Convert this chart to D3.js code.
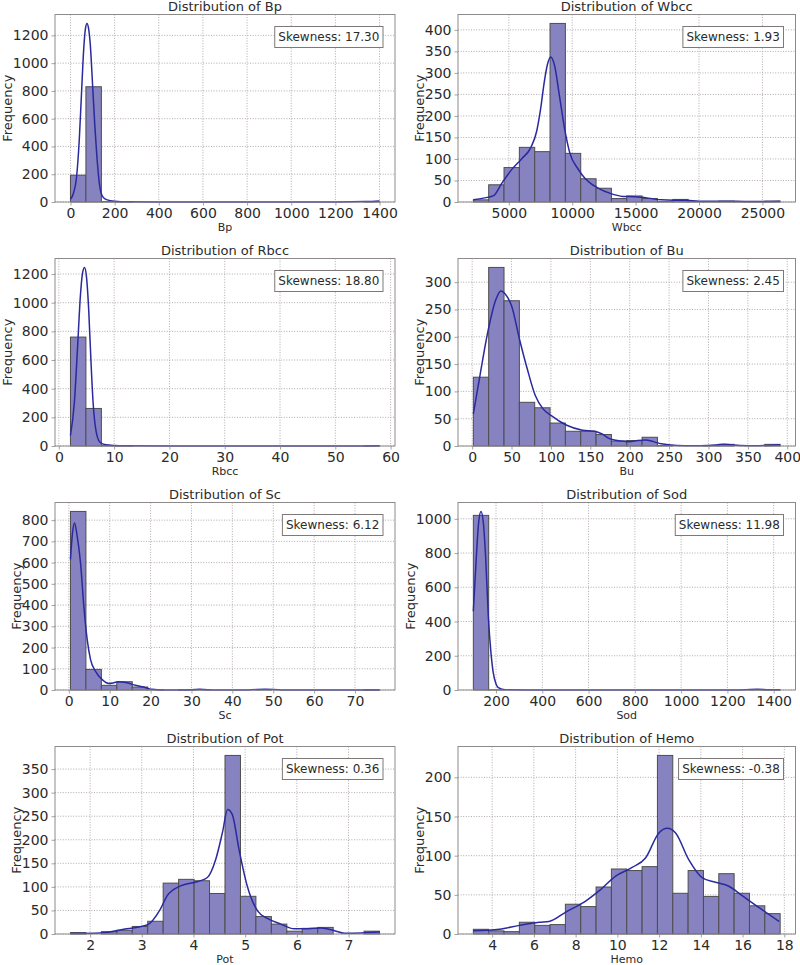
<!DOCTYPE html>
<html><head><meta charset="utf-8">
<script src="https://cdn.jsdelivr.net/npm/d3@7/dist/d3.min.js"></script>
<style>body{margin:0;background:#fff}text{font-family:"DejaVu Sans",sans-serif}</style>
</head><body>
<svg id="chart" width="800" height="965"></svg>
<script>
// ---------- data ----------
const panelNames = ["Bp","Wbcc","Rbcc","Bu","Sc","Sod","Pot","Hemo"];
const skewness  = ["17.30","1.93","18.80","2.45","6.12","11.98","0.36","-0.38"];
const dataRanges = [[0,1400],[2200,26400],[2.1,58],[1.5,391],[0.4,76],[102,1428],[1.62,7.6],[3.1,17.8]];

const bpCounts   = [193,830,3,1,0,0,0,0,0,0,0,0,0,0,0,0,0,0,0,1];
const wbccCounts = [5,40,80,127,117,415,113,54,32,8,14,8,1,6,1,1,2,1,1,2];
const rbccCounts = [760,262,3,1,0,0,0,0,0,0,0,0,0,0,0,0,0,0,0,1];
const buCounts   = [126,327,266,80,70,42,27,27,21,9,10,16,1,0,0,1,3,0,0,3];
const scCounts   = [841,97,22,39,14,1,0,1,2,0,0,0,2,0,0,0,0,0,0,1];
const sodCounts  = [1020,1,0,0,0,0,0,0,0,0,0,0,0,0,0,0,0,0,2,1];
const potCounts  = [3,0,5,8,16,27,108,116,113,86,379,80,37,21,6,12,14,0,0,6];
const hemoCounts = [6,4,3,15,11,12,38,35,60,83,81,86,228,52,81,48,77,52,36,26];

const bpKde = [[0,20],[15,70],[27,171],[40,450],[50,780],[60,1100],[68,1250],[75,1286],[82,1250],[90,1130],[100,850],[110,560],[120,320],[133,110],[145,40],[163,17],[200,5],[260,1],[400,0.5],[800,0.3],[1200,0.5],[1340,3],[1400,8]];
const wbccKde = [[2200,5],[3000,9],[3800,15],[4433,43],[5266,77],[6000,100],[6741,127],[7200,165],[7500,215],[7800,280],[8050,320],[8300,337],[8600,318],[9000,245],[9400,170],[9800,115],[10500,75],[11000,55],[11500,42],[12000,33],[13000,20],[14000,13],[15000,12],[16000,9],[17000,5],[18000,4],[19000,4],[20000,2],[22000,2],[24000,1],[26400,2]];
const rbccKde = [[2.1,74],[2.8,300],[3.4,700],[3.9,1050],[4.3,1210],[4.66,1246],[5.0,1180],[5.4,950],[5.8,600],[6.2,300],[6.7,110],[7.4,28],[8.5,8],[10,3],[12,1],[20,0.3],[40,0.2],[55,0.5],[58,2]];
const buKde = [[1.5,59],[10,130],[20,210],[30,268],[36.6,284],[45,272],[50,257],[60,196],[70,141],[80,93],[90,68],[100,56],[120,38],[140,29],[155,27],[165,22],[175,13],[190,9],[200,8],[210,10],[220,11],[230,8],[240,4],[260,1],[280,0.5],[300,1],[320,3],[340,1],[360,0.5],[380,1.5],[391,2.5]];
const scKde = [[0.4,615],[0.9,740],[1.39,787],[2.0,730],[2.86,600],[3.67,395],[4.49,238],[5.3,144],[6.5,89],[8.1,50],[9.8,31],[11,34],[12.2,39],[13.9,35],[16.3,22],[18.8,11],[20.4,3],[23,0.5],[28,0.5],[32,3],[36,0.5],[44,0.5],[48,4],[52,0.5],[60,0.2],[76,0.3]];
const sodKde = [[102,460],[115,780],[125,980],[135,1043],[145,980],[155,780],[166.7,431],[178,220],[188,101],[200,35],[210,14],[240,1],[400,0.2],[800,0.2],[1200,0.3],[1280,2],[1330,4],[1380,2],[1428,2]];
const potKde = [[1.62,1],[2.2,2],[2.71,11],[3.1,19],[3.36,53],[3.49,81],[3.75,102],[4.07,111],[4.27,120],[4.43,158],[4.56,215],[4.66,264],[4.75,254],[4.88,180],[5.04,102],[5.24,49],[5.43,33],[5.69,21],[5.95,11],[6.21,11],[6.47,13],[6.73,7],[6.92,1.5],[7.25,2],[7.6,4]];
const hemoKde = [[3.1,4],[4.35,6],[5.3,11],[6.26,15],[6.73,16],[7.53,28],[8.48,42],[9.12,55],[9.92,74],[10.71,85],[11.35,97],[11.99,129],[12.39,135],[12.79,129],[13.42,95],[14.06,72],[14.7,66],[15.34,61],[15.98,49],[16.77,34],[17.75,16]];

const xTicks = [
  [0,200,400,600,800,1000,1200,1400],
  [5000,10000,15000,20000,25000],
  [0,10,20,30,40,50,60],
  [0,50,100,150,200,250,300,350,400],
  [0,10,20,30,40,50,60,70],
  [200,400,600,800,1000,1200,1400],
  [2,3,4,5,6,7],
  [4,6,8,10,12,14,16,18]
];
const yTicks = [
  [0,200,400,600,800,1000,1200],
  [0,50,100,150,200,250,300,350,400],
  [0,200,400,600,800,1000,1200],
  [0,50,100,150,200,250,300],
  [0,100,200,300,400,500,600,700,800],
  [0,200,400,600,800,1000],
  [0,50,100,150,200,250,300,350],
  [0,50,100,150,200]
];
const allCounts = [bpCounts,wbccCounts,rbccCounts,buCounts,scCounts,sodCounts,potCounts,hemoCounts];
const allKde = [bpKde,wbccKde,rbccKde,buKde,scKde,sodKde,potKde,hemoKde];

// ---------- layout ----------
const colLeft = [55, 458], colRight = [395, 795.5];
const rowTop = [14.5, 258.5, 502.5, 746.5], axH = 187.5;
const barFill = "#8783c1", barEdge = "#4d4d4d", kdeColor = "#2a2a9e";
const gridColor = "#b3a9a9", spineColor = "#8f8a8a", textColor = "#2b2b2b";

const svg = d3.select("#chart");

panelNames.forEach((name, i) => {
  const r = Math.floor(i / 2), c = i % 2;
  const L = colLeft[c], R = colRight[c], T = rowTop[r], B = T + axH;
  const [mn, mx] = dataRanges[i];
  const span = mx - mn;
  const counts = allCounts[i], kde = allKde[i];
  const nb = counts.length, bw = span / nb;
  const x = d3.scaleLinear().domain([mn - 0.05 * span, mx + 0.05 * span]).range([L, R]);
  const ymax = Math.max(d3.max(counts), d3.max(kde, d => d[1])) * 1.05;
  const y = d3.scaleLinear().domain([0, ymax]).range([B, T]);

  const g = svg.append("g");

  // grid
  g.append("g").selectAll("line").data(xTicks[i]).join("line")
    .attr("x1", d => x(d)).attr("x2", d => x(d)).attr("y1", T).attr("y2", B)
    .attr("stroke", gridColor).attr("stroke-width", 1).attr("stroke-dasharray", "1,1.6");
  g.append("g").selectAll("line").data(yTicks[i]).join("line")
    .attr("x1", L).attr("x2", R).attr("y1", d => y(d)).attr("y2", d => y(d))
    .attr("stroke", gridColor).attr("stroke-width", 1).attr("stroke-dasharray", "1,1.6");

  // bars
  g.append("g").selectAll("rect").data(counts).join("rect")
    .attr("x", (d, k) => x(mn + k * bw))
    .attr("width", (d, k) => x(mn + (k + 1) * bw) - x(mn + k * bw))
    .attr("y", d => y(d)).attr("height", d => B - y(d))
    .attr("fill", barFill).attr("stroke", barEdge).attr("stroke-width", 1);

  // kde
  const line = d3.line().x(d => x(d[0])).y(d => y(d[1])).curve(d3.curveMonotoneX);
  g.append("path").datum(kde).attr("d", line)
    .attr("fill", "none").attr("stroke", kdeColor).attr("stroke-width", 1.5);

  // axes
  const xa = g.append("g").attr("transform", `translate(0,${B})`)
    .call(d3.axisBottom(x).tickValues(xTicks[i]).tickFormat(d => String(d)).tickSize(3.5).tickPadding(2.5));
  const ya = g.append("g").attr("transform", `translate(${L},0)`)
    .call(d3.axisLeft(y).tickValues(yTicks[i]).tickFormat(d => String(d)).tickSize(3.5).tickPadding(3));
  [xa, ya].forEach(a => {
    a.select(".domain").remove();
    a.selectAll(".tick line").attr("stroke", spineColor).attr("stroke-width", 0.8);
    a.selectAll(".tick text").attr("fill", textColor).style("font-size", "14px")
      .style("font-family", "'DejaVu Sans', sans-serif");
  });

  // spines
  g.append("rect").attr("x", L).attr("y", T).attr("width", R - L).attr("height", axH)
    .attr("fill", "none").attr("stroke", spineColor).attr("stroke-width", 1);

  // title
  g.append("text").attr("x", (L + R) / 2).attr("y", T - 4).attr("text-anchor", "middle")
    .attr("fill", textColor).style("font-size", "13px").text("Distribution of " + name);

  // x label
  g.append("text").attr("x", (L + R) / 2).attr("y", B + 28.5).attr("text-anchor", "middle")
    .attr("fill", textColor).style("font-size", "11px").text(name);

  // y label
  let minX = L;
  ya.selectAll(".tick text").each(function () { const b = this.getBBox(); minX = Math.min(minX, L + b.x); });
  const yl = minX - 1;
  g.append("text").attr("transform", `translate(${yl},${(T + B) / 2}) rotate(-90)`)
    .attr("text-anchor", "middle").attr("fill", textColor).style("font-size", "13px").text("Frequency");

  // skewness box
  const pad = 3.6, bh = 21;
  const bxR = R - 12, byT = T + 12;
  const box = g.append("rect");
  const st = g.append("text").attr("text-anchor", "end").attr("fill", textColor)
    .style("font-size", "12px").text("Skewness: " + skewness[i]);
  const tw = st.node().getComputedTextLength();
  box.attr("x", bxR - tw - 2 * pad).attr("y", byT)
    .attr("width", tw + 2 * pad).attr("height", bh)
    .attr("fill", "#fff").attr("stroke", "#7f7878").attr("stroke-width", 1);
  st.attr("x", bxR - pad).attr("y", byT + bh / 2 + 4.3);
});
</script>
</body></html>
